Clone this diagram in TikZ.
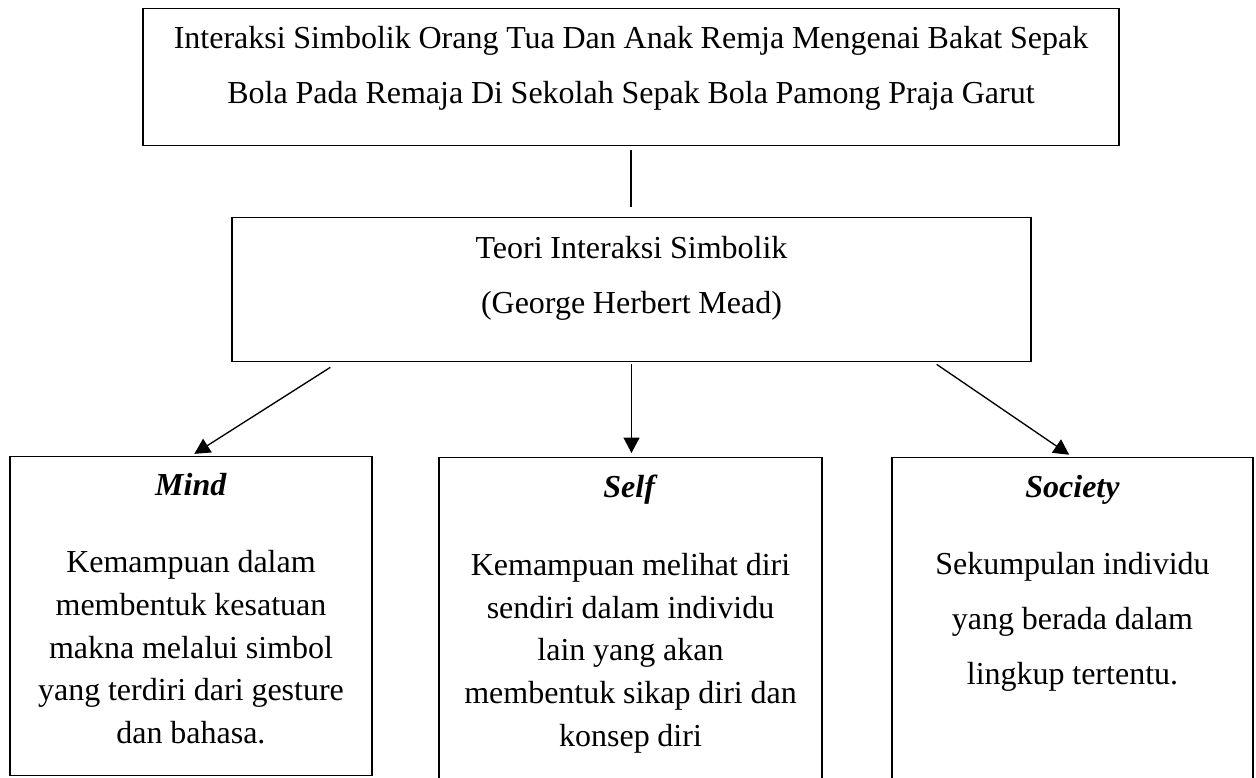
\documentclass[tikz,border=0pt]{standalone}
\usepackage{fontspec}
\setmainfont{Liberation Serif}
\usetikzlibrary{arrows.meta}

\begin{document}
\begin{tikzpicture}[x=0.375pt,y=-0.375pt]
      \tikzstyle{kotak}=[draw, line width=0.5pt, inner sep=0pt, align=center,
                         execute at begin node={\spaceskip=2.9pt\relax}]
      \tikzstyle{panah}=[-{Triangle[length=5.8pt,width=6pt]}, line width=0.5pt, shorten >=1.5pt]
      \tikzstyle{garis}=[line width=0.5pt]

      \clip (0,0) rectangle (1256,777);

      \node[kotak, anchor=north, text width=366pt, text height=15pt, text depth=36.4pt,
            font=\fontsize{12}{20.6}\selectfont] (Judul) at (631,8)
            {Interaksi Simbolik Orang Tua Dan Anak Remja Mengenai Bakat Sepak\\
             Bola Pada Remaja Di Sekolah Sepak Bola Pamong Praja Garut};
      \node[kotak, anchor=north, text width=299.6pt, text height=15.4pt, text depth=38.6pt,
            font=\fontsize{12}{20.6}\selectfont] (Teori) at (631.5,217)
            {Teori Interaksi Simbolik\\ (George Herbert Mead)};
      \node[kotak, anchor=north, text width=135.75pt, text height=14.6pt, text depth=105pt,
            font=\fontsize{12}{16}\selectfont] (Mind) at (191,456)
            {\textbf{\textit{Mind}}\\[12.9pt] Kemampuan dalam\\ membentuk kesatuan\\
             makna melalui simbol\\ yang terdiri dari gesture\\ dan bahasa.};
      \node[kotak, anchor=north, text width=143.6pt, text height=15pt, text depth=110pt,
            font=\fontsize{12}{16}\selectfont] (Self) at (630.5,457)
            {\textbf{\textit{Self}}\\[13.2pt] Kemampuan melihat diri\\ sendiri dalam individu\\
             lain yang akan\\ membentuk sikap diri dan\\ konsep diri};
      \node[kotak, anchor=north, text width=135.4pt, text height=15pt, text depth=110pt,
            font=\fontsize{12}{20.6}\selectfont] (Soc) at (1072.5,457)
            {\textbf{\textit{Society}}\\[8.3pt] Sekumpulan individu\\ yang berada dalam\\
             lingkup tertentu.};

      \draw[garis, shorten <=1.2pt, shorten >=3.8pt] (Judul.south) -- (Judul.south |- Teori.north);
      \draw[panah] ([shift={(99,5)}]Teori.south west) -- (Mind.north);
      \draw[panah] ([yshift=-0.75pt]Teori.south) -- (Teori.south |- Self.north);
      \draw[panah] ([shift={(-95,2)}]Teori.south east) -- (Soc.north);

    \end{tikzpicture}
\end{document}
